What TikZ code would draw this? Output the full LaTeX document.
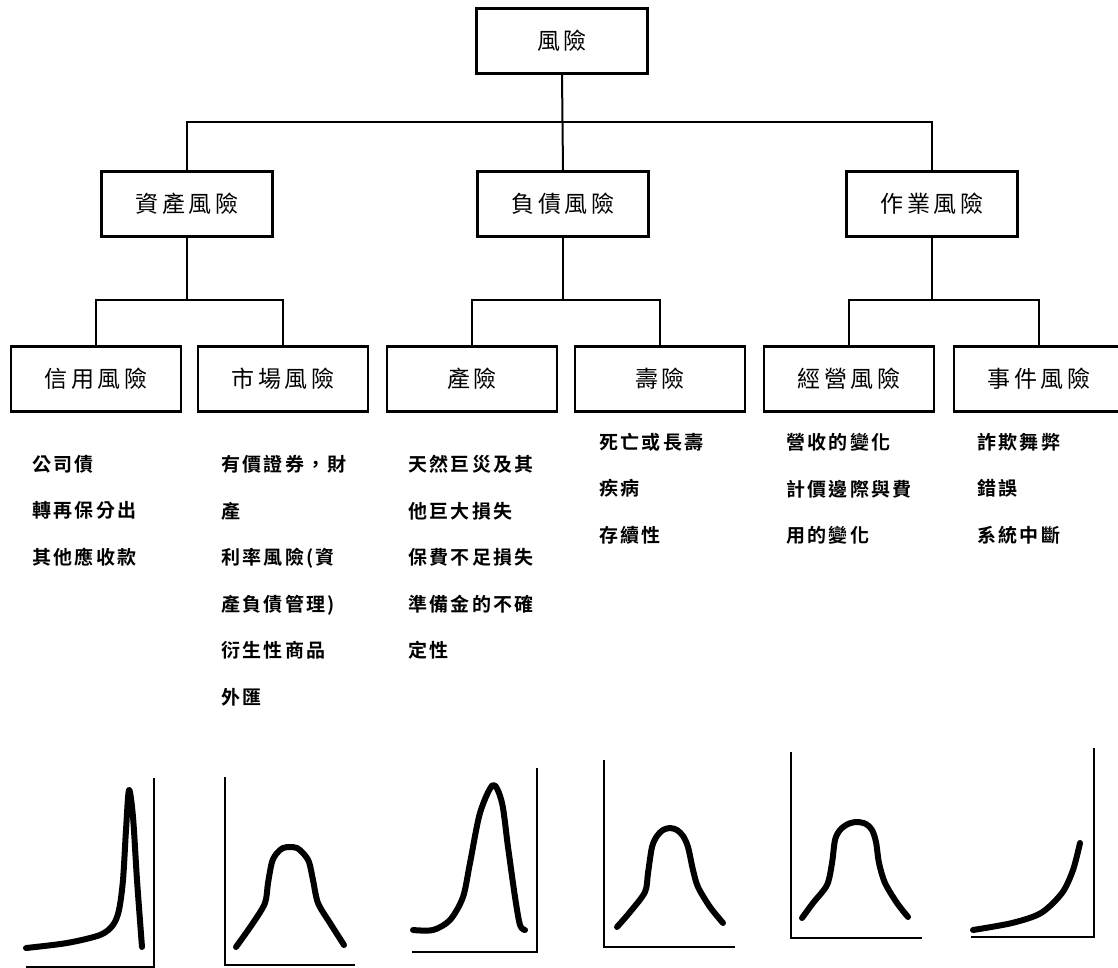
\documentclass[tikz,border=0pt]{standalone}
\usepackage{fontspec}
\newfontfamily\cjkbox{Noto Sans CJK TC}[LetterSpace=15]
\newfontfamily\cjklist{Noto Sans CJK TC}[LetterSpace=12, UprightFont=* Bold]
\begin{document}
\begin{tikzpicture}[x=1pt, y=-1pt,
    riskbox/.style={draw, line width=2.5pt, minimum width=171pt, minimum height=65pt, inner sep=0pt, font=\cjkbox\fontsize{23}{23}\selectfont},
    link/.style={line width=2pt},
    itemlist/.style={anchor=north west, align=left, inner sep=0pt, font=\cjklist\fontsize{19}{46.5}\selectfont},
    density/.style={line width=6pt, line cap=round, line join=round},
    axisline/.style={line width=2pt}
]
\useasboundingbox (0,0) rectangle (1118,968);

\node[riskbox] (risk) at (562,41) {風險};
\node[riskbox] (asset) at (187,204) {資產風險};
\node[riskbox] (liab) at (563,204) {負債風險};
\node[riskbox] (oper) at (932,204) {作業風險};

\node[riskbox, minimum width=170pt] (credit) at (96,379) {信用風險};
\node[riskbox, minimum width=170pt] (market) at (283,379) {市場風險};
\node[riskbox, minimum width=170pt] (prop) at (472,379) {產險};
\node[riskbox, minimum width=170pt] (life) at (660,379) {壽險};
\node[riskbox, minimum width=170pt] (biz) at (849,379) {經營風險};
\node[riskbox, minimum width=170pt] (event) at (1039,379) {事件風險};

\draw[link] (risk.south) -- (liab.north);
\draw[link] (asset.north) |- (risk.south |- 0,122) -| (oper.north);
\foreach \p/\a/\b in {asset/credit/market, liab/prop/life, oper/biz/event}{
  \draw[link] (\p.south) -- (\p.south |- 0,300);
  \draw[link] (\a.north) |- (\p.south |- 0,300) -| (\b.north);
}

\node[itemlist] (creditlist) at (32,455) {公司債\\轉再保分出\\其他應收款};
\node[itemlist] (marketlist) at (221,455) {有價證券，財\\產\\利率風險(資\\產負債管理)\\衍生性商品\\外匯};
\node[itemlist] (proplist) at (408,455) {天然巨災及其\\他巨大損失\\保費不足損失\\準備金的不確\\定性};
\node[itemlist] (lifelist) at (599,433) {死亡或長壽\\疾病\\存續性};
\node[itemlist] (bizlist) at (786,433) {營收的變化\\計價邊際與費\\用的變化};
\node[itemlist] (eventlist) at (977,433) {詐欺舞弊\\錯誤\\系統中斷};

\draw[axisline] (154,778) -- (154,967) -- (26,967);
\draw[density] plot[smooth, tension=0.5] coordinates {(26,948) (67,943) (100,935) (113,925) (119,910) (123,880) (126,830) (129,790) (133,817) (137,880) (142,947)};

\draw[axisline] (225,777) -- (225,965) -- (355,965);
\draw[density] plot[smooth, tension=0.5] coordinates {(236,947) (253,923) (265,903) (268,883) (272,862) (277,853) (283,848) (290,847) (297,848) (303,853) (309,862) (313,880) (318,903) (330,923) (344,945)};

\draw[axisline] (412,952) -- (537,952) -- (537,768);
\draw[density] plot[smooth, tension=0.5] coordinates {(413,930) (433,930) (450,920) (463,897) (470,863) (480,813) (493,785) (502,803) (508,847) (515,897) (520,925) (525,930)};

\draw[axisline] (604,760) -- (604,947) -- (735,947);
\draw[density] plot[smooth, tension=0.5] coordinates {(617,927) (630,912) (645,892) (648,873) (652,847) (657,836) (663,830) (670,828) (677,830) (683,836) (688,847) (693,870) (698,887) (710,907) (723,923)};

\draw[axisline] (791,752) -- (791,938) -- (922,938);
\draw[density] plot[smooth, tension=0.5] coordinates {(802,918) (813,903) (827,885) (832,863) (835,840) (840,830) (848,824) (857,822) (866,824) (872,830) (876,842) (879,863) (885,883) (897,903) (908,917)};

\draw[axisline] (971,937) -- (1094,937) -- (1094,748);
\draw[density] plot[smooth, tension=0.5] coordinates {(973,930) (1012,923) (1041,913) (1062,893) (1073,870) (1080,843)};
\end{tikzpicture}
\end{document}
